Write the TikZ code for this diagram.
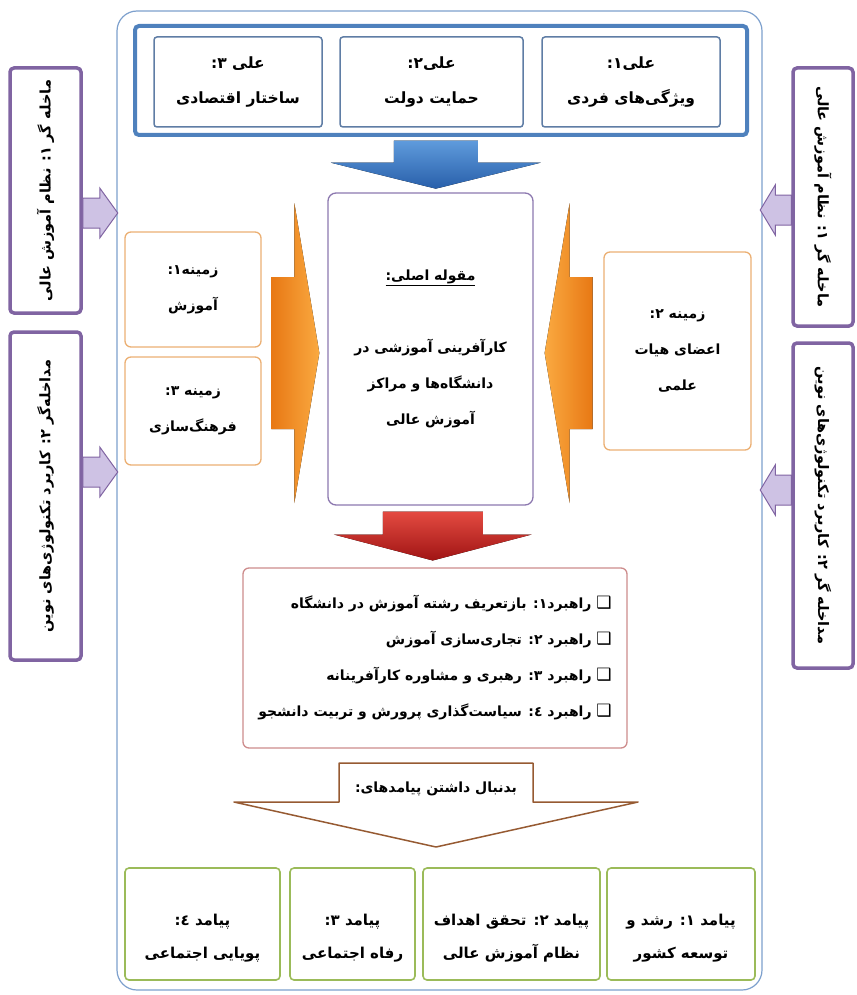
\documentclass[tikz,border=0pt]{standalone}
\usepackage{fontspec}
\newfontfamily\farsi[Script=Arabic]{DejaVu Sans}
\TeXXeTstate=1
\newcommand{\fatxt}[1]{\beginR#1\endR}
\newcommand{\chk}{{\mdseries\fontsize{17}{17}\selectfont ❑}}
\usetikzlibrary{calc}
\definecolor{outerblue}{RGB}{125,160,205}
\definecolor{framecol}{RGB}{79,129,189}
\definecolor{alicol}{RGB}{95,125,165}
\definecolor{maincol}{RGB}{140,120,175}
\definecolor{zamcol}{RGB}{235,175,115}
\definecolor{rahcol}{RGB}{205,140,140}
\definecolor{paycol}{RGB}{155,187,89}
\definecolor{sidecol}{RGB}{128,100,162}
\definecolor{sidefill}{RGB}{206,194,228}
\definecolor{browncol}{RGB}{150,90,50}

\begin{document}
\begin{tikzpicture}[x=1pt, y=-1pt,
  every node/.style={font=\farsi\bfseries\fontsize{14}{36}\selectfont, align=center, inner sep=0pt},
  alibox/.style={draw=alicol, line width=1.5pt, rounded corners=3pt, minimum height=90pt, font=\farsi\bfseries\fontsize{15.5}{35}\selectfont},
  zambox/.style={draw=zamcol, line width=1.3pt, rounded corners=6pt, minimum width=136pt},
  paybox/.style={draw=paycol, line width=1.6pt, rounded corners=4pt, minimum height=112pt, font=\farsi\bfseries\fontsize{15}{33}\selectfont},
  sidebox/.style={draw=sidecol, line width=3.5pt, rounded corners=4pt, font=\farsi\bfseries\fontsize{14.5}{15}\selectfont},
  sidearrow/.style={draw=sidecol, line width=1pt, fill=sidefill}]
\useasboundingbox (0,0) rectangle (856,995);
\node[draw=outerblue, line width=1.2pt, rounded corners=20pt, minimum width=645pt, minimum height=979pt] (outer) at (439.5,500.5) {};
\node[draw=framecol, line width=4pt, rounded corners=4pt, minimum width=612pt, minimum height=109pt] (frame) at (441,80.5) {};
\node[alibox, minimum width=168pt] (ali3) at (238,82) {\fatxt{علی ۳:}\\\fatxt{ساختار اقتصادی}};
\node[alibox, minimum width=183pt] (ali2) at (431.5,82) {\fatxt{علی۲:}\\\fatxt{حمایت دولت}};
\node[alibox, minimum width=178pt] (ali1) at (631,82) {\fatxt{علی۱:}\\\fatxt{ویژگی‌های فردی}};
\node[draw=maincol, line width=1.3pt, rounded corners=8pt, minimum width=205pt, minimum height=312pt] (mainc) at (430.5,349) {\underline{\fatxt{مقوله اصلی:}}\\[36pt]\fatxt{کارآفرینی آموزشی در}\\\fatxt{دانشگاه‌ها و مراکز}\\\fatxt{آموزش عالی}};
\node[zambox, minimum height=115pt] (zam1) at (193,289.5) {\fatxt{زمینه۱:}\\\fatxt{آموزش}};
\node[zambox, minimum height=108pt] (zam3) at (193,411) {\fatxt{زمینه ۳:}\\\fatxt{فرهنگ‌سازی}};
\node[zambox, minimum width=147pt, minimum height=198pt] (zam2) at (677.5,351) {\fatxt{زمینه ۲:}\\\fatxt{اعضای هیات}\\\fatxt{علمی}};
\node[draw=rahcol, line width=1.3pt, rounded corners=6pt, minimum width=384pt, minimum height=180pt, align=right] (rah) at (435,658) {\fatxt{\chk\ راهبرد۱: بازتعریف رشته آموزش در دانشگاه}\\\fatxt{\chk\ راهبرد ۲: تجاری‌سازی آموزش}\\\fatxt{\chk\ راهبرد ۳: رهبری و مشاوره کارآفرینانه}\\\fatxt{\chk\ راهبرد ٤: سیاست‌گذاری پرورش و تربیت دانشجو}};
\node (bed) at (436,789) {\fatxt{بدنبال داشتن پیامدهای:}};
\node[paybox, minimum width=148pt] (pay1) at (681,924) {\rule{0pt}{40pt}\fatxt{پیامد ۱: رشد و}\\\fatxt{توسعه کشور}};
\node[paybox, minimum width=177pt] (pay2) at (511.5,924) {\rule{0pt}{40pt}\fatxt{پیامد ۲: تحقق اهداف}\\\fatxt{نظام آموزش عالی}};
\node[paybox, minimum width=125pt] (pay3) at (352.5,924) {\rule{0pt}{40pt}\fatxt{پیامد ۳:}\\\fatxt{رفاه اجتماعی}};
\node[paybox, minimum width=155pt] (pay4) at (202.5,924) {\rule{0pt}{40pt}\fatxt{پیامد ٤:}\\\fatxt{پویایی اجتماعی}};
\node[sidebox, rotate=90, minimum width=245pt, minimum height=71pt] (lb1) at (45.5,190.5) {\fatxt{ماخله گر ۱: نظام آموزش عالی}};
\node[sidebox, rotate=90, minimum width=328pt, minimum height=71pt] (lb2) at (45.5,496) {\fatxt{مداخله‌گر ۲: کاربرد تکنولوژی‌های نوین}};
\node[sidebox, rotate=-90, minimum width=258pt, minimum height=60pt] (rb1) at (823,197) {\fatxt{ماخله گر ۱: نظام آموزش عالی}};
\node[sidebox, rotate=-90, minimum width=325pt, minimum height=60pt] (rb2) at (823,505.5) {\fatxt{مداخله گر ۲: کاربرد تکنولوژی‌های نوین}};
\draw[sidearrow] ($(lb1.south)+(0,22.5)$) ++(0,-15) -- ++(17,0) -- ++(0,-10) -- ++(18,25) -- ++(-18,25) -- ++(0,-10) -- ++(-17,0) -- cycle;
\draw[sidearrow] ($(lb2.south)+(0,-24)$) ++(0,-15) -- ++(17,0) -- ++(0,-10) -- ++(18,25) -- ++(-18,25) -- ++(0,-10) -- ++(-17,0) -- cycle;
\draw[sidearrow] ($(rb1.south)+(0,13)$) ++(0,-15) -- ++(-16,0) -- ++(0,-10) -- ++(-15,25) -- ++(15,25) -- ++(0,-10) -- ++(16,0) -- cycle;
\draw[sidearrow] ($(rb2.south)+(0,-15.5)$) ++(0,-15) -- ++(-16,0) -- ++(0,-10) -- ++(-15,25) -- ++(15,25) -- ++(0,-10) -- ++(16,0) -- cycle;
\fill[top color={rgb,255:red,95;green,155;blue,220}, bottom color={rgb,255:red,40;green,95;blue,170}] ($(frame.south)!.5!(mainc.north)$) ++(-42,-24) -- ++(84,0) -- ++(0,22) -- ++(63,0) -- ++(-105,26) -- ++(-105,-26) -- ++(63,0) -- cycle;
\fill[top color={rgb,255:red,228;green,75;blue,65}, bottom color={rgb,255:red,160;green,20;blue,20}] ($(mainc.south)!.5!(rah.north)$) ++(-50,-25) -- ++(100,0) -- ++(0,23) -- ++(49,0) -- ++(-99,26) -- ++(-99,-26) -- ++(49,0) -- cycle;
\fill[left color={rgb,255:red,232;green,120;blue,20}, right color={rgb,255:red,250;green,170;blue,65}] ($(mainc.west)+(-32,4)$) ++(-24,-76) -- ++(23,0) -- ++(0,-74) -- ++(25,150) -- ++(-25,150) -- ++(0,-74) -- ++(-23,0) -- cycle;
\fill[right color={rgb,255:red,232;green,120;blue,20}, left color={rgb,255:red,250;green,170;blue,65}] ($(mainc.east)+(35,4)$) ++(24,-76) -- ++(-23,0) -- ++(0,-74) -- ++(-25,150) -- ++(25,150) -- ++(0,-74) -- ++(23,0) -- cycle;
\draw[browncol, line width=1.5pt, line join=round] ($(bed)+(0,1)$) ++(-97,-27) -- ++(194,0) -- ++(0,39) -- ++(105,0) -- ++(-202,45) -- ++(-202,-45) -- ++(105,0) -- cycle;
\end{tikzpicture}
\end{document}
